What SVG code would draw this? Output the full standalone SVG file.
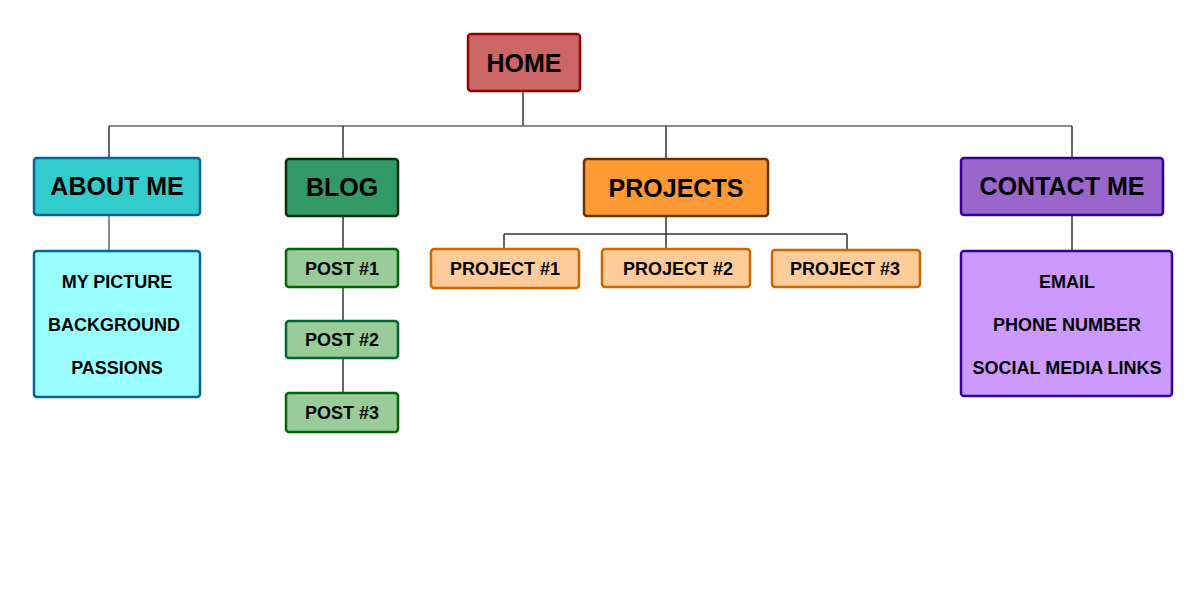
<svg xmlns="http://www.w3.org/2000/svg" width="1200" height="600" viewBox="0 0 1200 600">
<style>
  rect { stroke-width: 2.5; }
  text { font-family: "Liberation Sans", Arial, sans-serif; font-weight: bold; fill: #000; text-anchor: middle; }
  .h { font-size: 25px; }
  .s { font-size: 18px; }
  .c line { stroke: #333; stroke-width: 1.5; }
  .c line.g { stroke: #666; }
</style>
<rect x="0" y="0" width="1200" height="600" fill="#ffffff" stroke="none"/>
<g class="c" id="connectors">
  <line x1="523" y1="91" x2="523" y2="126"/>
  <line class="g" x1="109" y1="126" x2="1072" y2="126"/>
  <line x1="109" y1="126" x2="109" y2="158"/>
  <line x1="343" y1="126" x2="343" y2="159"/>
  <line x1="666" y1="126" x2="666" y2="159"/>
  <line x1="1072" y1="126" x2="1072" y2="158"/>
  <line class="g" x1="109" y1="215" x2="109" y2="251"/>
  <line x1="343" y1="216" x2="343" y2="249"/>
  <line x1="343" y1="287" x2="343" y2="321"/>
  <line x1="343" y1="358" x2="343" y2="393"/>
  <line x1="666" y1="216" x2="666" y2="249"/>
  <line x1="504" y1="234" x2="847" y2="234"/>
  <line x1="504" y1="234" x2="504" y2="249"/>
  <line x1="847" y1="234" x2="847" y2="250"/>
  <line x1="1072" y1="215" x2="1072" y2="251"/>
</g>
<g id="home">
  <rect x="468" y="34" width="112" height="57" rx="3" fill="#cc6666" stroke="#990000"/>
  <text class="h" x="524" y="72">HOME</text>
</g>
<g id="about">
  <rect x="34" y="158" width="166" height="57" rx="3" fill="#33cccc" stroke="#006699"/>
  <text class="h" x="117" y="195">ABOUT ME</text>
</g>
<g id="about-details">
  <rect x="34" y="251" width="166" height="146" rx="3" fill="#99ffff" stroke="#006699"/>
  <text class="s" x="117" y="287.5">MY PICTURE</text>
  <text class="s" x="114" y="330.5">BACKGROUND</text>
  <text class="s" x="117" y="373.5">PASSIONS</text>
</g>
<g id="blog">
  <rect x="286" y="159" width="112" height="57" rx="3" fill="#339966" stroke="#003300"/>
  <text class="h" x="342" y="196">BLOG</text>
</g>
<g id="post1">
  <rect x="286" y="249" width="112" height="38" rx="3" fill="#99cc99" stroke="#006600"/>
  <text class="s" x="342" y="274.5">POST #1</text>
</g>
<g id="post2">
  <rect x="286" y="321" width="112" height="37" rx="3" fill="#99cc99" stroke="#006633"/>
  <text class="s" x="342" y="346">POST #2</text>
</g>
<g id="post3">
  <rect x="286" y="393" width="112" height="39" rx="3" fill="#99cc99" stroke="#006600"/>
  <text class="s" x="342" y="419">POST #3</text>
</g>
<g id="projects">
  <rect x="584" y="159" width="184" height="57" rx="3" fill="#ff9933" stroke="#663300"/>
  <text class="h" x="676" y="197">PROJECTS</text>
</g>
<g id="project1">
  <rect x="431" y="249" width="148" height="39" rx="3" fill="#ffcc99" stroke="#cc6600"/>
  <text class="s" x="505" y="275">PROJECT #1</text>
</g>
<g id="project2">
  <rect x="602" y="249" width="148" height="38" rx="3" fill="#ffcc99" stroke="#cc6600"/>
  <text class="s" x="678" y="274.5">PROJECT #2</text>
</g>
<g id="project3">
  <rect x="772" y="250" width="148" height="37" rx="3" fill="#ffcc99" stroke="#cc6600"/>
  <text class="s" x="845" y="274.5">PROJECT #3</text>
</g>
<g id="contact">
  <rect x="961" y="158" width="202" height="57" rx="3" fill="#9966cc" stroke="#330099"/>
  <text class="h" x="1062" y="195">CONTACT ME</text>
</g>
<g id="contact-details">
  <rect x="961" y="251" width="211" height="145" rx="3" fill="#cc99ff" stroke="#330099"/>
  <text class="s" x="1067" y="287.5">EMAIL</text>
  <text class="s" x="1067" y="330.5">PHONE NUMBER</text>
  <text class="s" x="1067" y="373.5">SOCIAL MEDIA LINKS</text>
</g>
</svg>
